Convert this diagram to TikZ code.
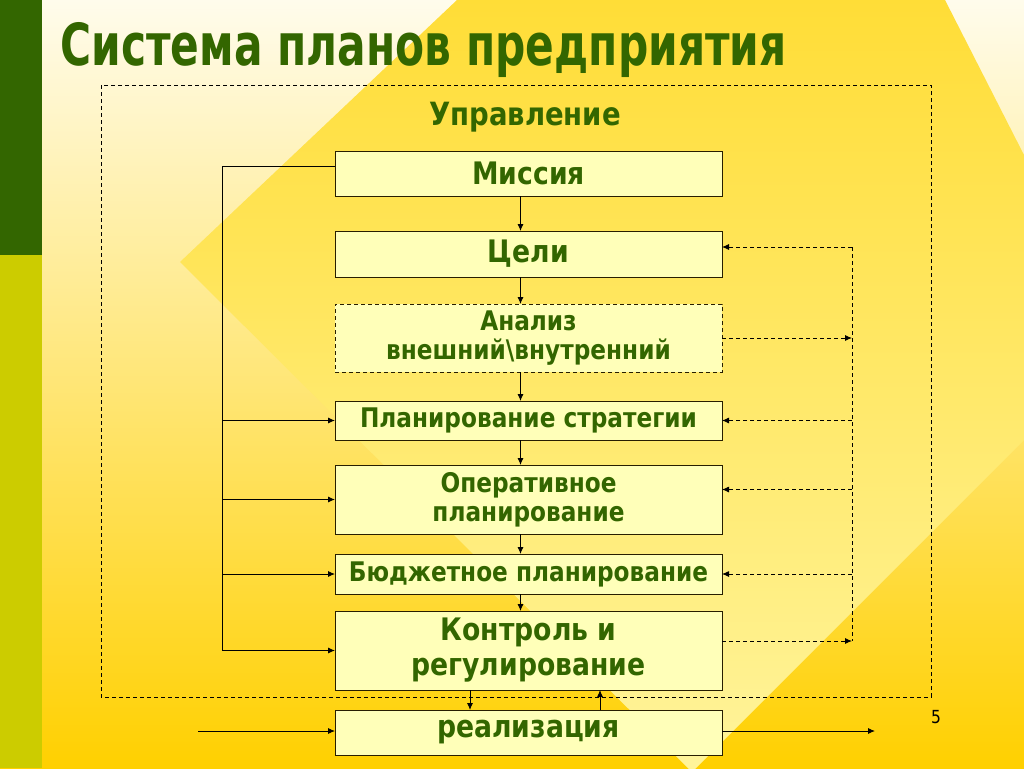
\documentclass[tikz,border=0pt]{standalone}
\usepackage{fontspec}
\newfontfamily\slidefont[FakeStretch=0.86]{DejaVu Sans}
\newfontfamily\titlefont[FakeStretch=0.73]{DejaVu Sans}
\usetikzlibrary{arrows.meta,calc,positioning}
\definecolor{leaf}{RGB}{51,102,0}
\definecolor{lime}{RGB}{204,204,0}
\definecolor{paper}{RGB}{255,252,236}
\definecolor{sun}{RGB}{255,208,0}
\definecolor{sunlight}{RGB}{255,244,155}
\definecolor{suntop}{RGB}{255,221,55}
\definecolor{boxfill}{RGB}{255,255,185}
\definecolor{edge}{RGB}{40,30,0}

\begin{document}
\begin{tikzpicture}[x=1pt,y=1pt,
    plan step/.style={align=center, minimum width=387pt, draw=edge, line width=0.9pt, fill=boxfill, outer sep=0pt, inner sep=2pt, text=leaf, font=\slidefont\bfseries\fontsize{27}{29}\selectfont},
    big step/.style={plan step, font=\slidefont\bfseries\fontsize{31}{35}\selectfont},
    plan link/.style={draw=black, line width=0.9pt, -{Latex[length=7pt,width=6pt]}},
    check link/.style={plan link, dash pattern=on 4pt off 3pt}
  ]
  % background
  \useasboundingbox (0,0) rectangle (1024,-768);
  \clip (0,0) rectangle (1024,-768);
  \shade [top color=paper, bottom color=sun] (0,0) rectangle (1024,-768);
  \shade [top color=suntop, bottom color=sunlight] (180,-262) -- (457,0) -- (945,0) -- (1024,-155) -- (1024,-440) -- (692,-772) -- cycle;
  \fill [leaf] (0,0) rectangle (42,-255);
  \fill [lime] (0,-255) rectangle (42,-768);
  \draw [dash pattern=on 4pt off 3pt, line width=0.8pt] (101,-85) rectangle (931,-697);

  \node [anchor=base west, text=leaf, font=\titlefont\bfseries\fontsize{58}{64}\selectfont] (title) at (57,-66) {Система планов предприятия};
  \node [text=leaf, font=\slidefont\bfseries\fontsize{32}{36}\selectfont] (manage) at (525,-117) {Управление};
  \node [font=\slidefont\fontsize{18}{20}\selectfont] (page) at (936,-717) {5};

  \begin{scope}[every node/.style={plan step}]
  \node [big step, minimum height=45pt] (mission) at (528.5,-173.5) {Миссия};
  \node [big step, minimum height=46pt, below=35pt of mission] (goals) {Цели};
  \node [minimum height=68pt, below=27pt of goals, dash pattern=on 4pt off 3pt] (analysis) {Анализ\\внешний\textbackslash внутренний};
  \node [minimum height=39pt, below=29pt of analysis] (strategy) {Планирование стратегии};
  \node [minimum height=69pt, below=25pt of strategy] (oper) {Оперативное\\планирование};
  \node [minimum height=40pt, below=20pt of oper] (budget) {Бюджетное планирование};
  \node [big step, minimum height=79pt, below=17pt of budget] (control) {Контроль и\\регулирование};
  \node [big step, minimum height=45pt, below=20pt of control] (impl) {реализация};
  \end{scope}

  \coordinate (lefttop) at (222,-166);
  \coordinate (righttop) at (852,-247);
  \coordinate (rightbot) at (852,-641);
  \coordinate (inflow) at (198,-731);
  \coordinate (outflow) at (875,-731);

  \begin{scope}[every path/.style={plan link}]
  \path ([xshift=-8pt]mission.south) -- ([xshift=-8pt]goals.north);
  \path ([xshift=-8pt]goals.south) -- ([xshift=-8pt]analysis.north);
  \path ([xshift=-8pt]analysis.south) -- ([xshift=-8pt]strategy.north);
  \path ([xshift=-8pt]strategy.south) -- ([xshift=-8pt]oper.north);
  \path ([xshift=-8pt]oper.south) -- ([xshift=-8pt]budget.north);
  \path ([xshift=-8pt]budget.south) -- ([xshift=-8pt]control.north);
  \path ([xshift=-58.5pt]control.south) -- ([xshift=-58.5pt]impl.north);
  \path ([xshift=71.5pt]impl.north) -- ([xshift=71.5pt]control.south);
  \path (inflow) -- (inflow -| impl.west);
  \path (impl.east |- outflow) -- (outflow);
  % left loop
  \path [-] ($(mission.west)+(0,7.5)$) -- (lefttop);
  \path (lefttop) |- (control.west);
  \path (lefttop |- strategy.west) -- (strategy.west);
  \path (lefttop |- oper.west) -- (oper.west);
  \path (lefttop |- budget.west) -- (budget.west);
  % right loop
  \path [check link, -] (righttop) -- (rightbot);
  \path [check link] (righttop) -- (righttop -| goals.east);
  \path [check link] (analysis.east) -- (analysis.east -| righttop);
  \path [check link] (strategy.east -| righttop) -- (strategy.east);
  \path [check link] ($(oper.east -| righttop)+(0,10)$) -- ($(oper.east)+(0,10)$);
  \path [check link] (budget.east -| righttop) -- (budget.east);
  \path [check link] (rightbot -| control.east) -- (rightbot);
  \end{scope}
\end{tikzpicture}
\end{document}
